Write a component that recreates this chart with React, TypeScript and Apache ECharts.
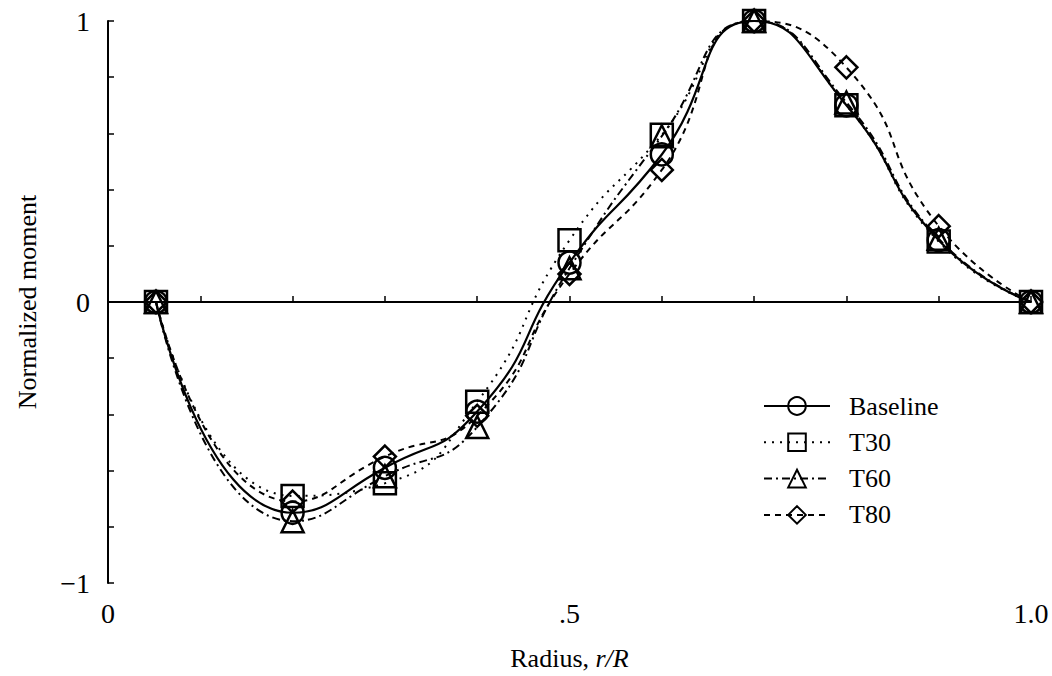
import React, { useEffect, useRef } from "react";
import * as echarts from "echarts";

const radius = [0.052, 0.2, 0.3, 0.4, 0.5, 0.6, 0.7, 0.8, 0.9, 1.0];
const baseline = [0, -0.75, -0.59, -0.39, 0.14, 0.525, 1.0, 0.70, 0.22, 0];
const t30 = [0, -0.69, -0.645, -0.355, 0.22, 0.595, 1.0, 0.70, 0.215, 0];
const t60 = [0, -0.78, -0.62, -0.445, 0.12, 0.59, 1.0, 0.71, 0.225, 0];
const t80 = [0, -0.71, -0.55, -0.405, 0.10, 0.47, 1.0, 0.835, 0.27, 0];
const seriesNames = ["Baseline", "T30", "T60", "T80"];

const FONT = "Liberation Serif";

export default function App() {
  const ref = useRef<HTMLDivElement>(null);
  useEffect(() => {
    document.body.style.margin = "0";
    const chart = echarts.init(ref.current!, null, { renderer: "svg" });
    const pts = (ys: number[]) => radius.map((x, i) => [x, ys[i]]);
    const mk = (
      name: string,
      ys: number[],
      symbol: string,
      size: number,
      type: any,
      width: number
    ) => ({
      name,
      type: "line",
      data: pts(ys),
      smooth: 0.55,
      symbol,
      symbolSize: size,
      showSymbol: true,
      lineStyle: { color: "#000", width, type },
      itemStyle: { color: "transparent", borderColor: "#000", borderWidth: 2.5 },
      emphasis: { disabled: true },
    });
    const series: any[] = [
      mk(seriesNames[0], baseline, "circle", 22, "solid", 2.2),
      mk(seriesNames[1], t30, "rect", 22, [2, 6], 2),
      mk(seriesNames[2], t60, "triangle", 22, [8, 4, 2, 4], 2),
      mk(seriesNames[3], t80, "diamond", 22, [6, 5], 2),
    ];
    series[0].markLine = {
      silent: true,
      symbol: "none",
      label: { show: false },
      lineStyle: { color: "#000", type: "solid", width: 2 },
      data: [{ yAxis: 0 }],
    };
    chart.setOption({
      animation: false,
      backgroundColor: "#fff",
      textStyle: { fontFamily: FONT, color: "#000" },
      grid: { left: 108, right: 21, top: 21, bottom: 91 },
      legend: {
        orient: "vertical",
        left: 758,
        top: 388,
        itemWidth: 66,
        itemHeight: 22,
        itemGap: 10.3,
        data: seriesNames,
        textStyle: { fontFamily: FONT, fontSize: 26, color: "#000", padding: [0, 0, 0, 14] },
      },
      xAxis: {
        type: "value",
        min: 0,
        max: 1,
        interval: 0.1,
        name: "Radius, {i|r/R}",
        nameLocation: "middle",
        nameGap: 62,
        nameTextStyle: {
          fontFamily: FONT,
          fontSize: 26,
          color: "#000",
          rich: { i: { fontFamily: FONT, fontSize: 26, fontStyle: "italic", color: "#000" } },
        },
        splitLine: { show: false },
        axisLine: { show: true, lineStyle: { color: "#000", width: 2 } },
        axisTick: { show: true, inside: true, length: 6, lineStyle: { color: "#000", width: 1.5 } },
        axisLabel: {
          margin: 16,
          fontFamily: FONT,
          fontSize: 28,
          color: "#000",
          formatter: (v: number) => {
            if (Math.abs(v) < 1e-6) return "0";
            if (Math.abs(v - 0.5) < 1e-6) return ".5";
            if (Math.abs(v - 1) < 1e-6) return "1.0";
            return "";
          },
        },
      },
      yAxis: {
        type: "value",
        min: -1,
        max: 1,
        interval: 0.2,
        name: "Normalized moment",
        nameLocation: "middle",
        nameGap: 68,
        nameTextStyle: { fontFamily: FONT, fontSize: 26, color: "#000" },
        splitLine: { show: false },
        axisLine: { show: true, lineStyle: { color: "#000", width: 2 } },
        axisTick: { show: true, inside: true, length: 6, lineStyle: { color: "#000", width: 1.5 } },
        axisLabel: {
          margin: 18,
          fontFamily: FONT,
          fontSize: 28,
          color: "#000",
          formatter: (v: number) => {
            const r = Math.round(v);
            if (Math.abs(v - r) < 1e-6) return r < 0 ? "\u2212" + Math.abs(r) : String(r);
            return "";
          },
        },
      },
      series,
    });
    return () => chart.dispose();
  }, []);
  return <div ref={ref} style={{ width: 1052, height: 676 }} />;
}
